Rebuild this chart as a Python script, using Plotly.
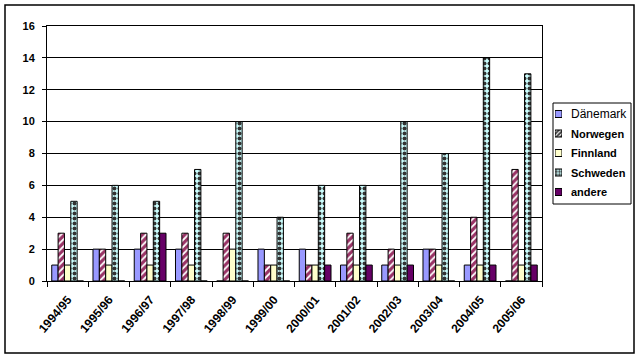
import plotly.graph_objects as go

seasons = ["1994/95", "1995/96", "1996/97", "1997/98", "1998/99", "1999/00",
           "2000/01", "2001/02", "2002/03", "2003/04", "2004/05", "2005/06"]
daenemark = [1, 2, 2, 2, 0, 2, 2, 1, 1, 2, 1, 0]
norwegen = [3, 2, 3, 3, 3, 1, 1, 3, 2, 2, 4, 7]
finnland = [1, 1, 1, 1, 2, 1, 1, 1, 1, 1, 1, 1]
schweden = [5, 6, 5, 7, 10, 4, 6, 6, 10, 8, 14, 13]
andere = [0, 0, 3, 0, 0, 0, 1, 1, 1, 0, 1, 1]
series_names = ["Dänemark", "Norwegen", "Finnland", "Schweden", "andere"]
y_ticks = [0, 2, 4, 6, 8, 10, 12, 14, 16]

# styles
fills = ["#9999FF", "white", "#FFFFCC", "#CCFFFF", "#660066"]
pat_shapes = ["", "/", "", ".", ""]
pat_fg = ["#9999FF", "#993366", "#FFFFCC", "#333333", "#660066"]
pat_size = [6, 5, 6, 5, 6]
pat_sol = [0.3, 0.65, 0.3, 0.5, 0.3]

W, H = 642, 360
L, R, T, B = 47, 8, 26, 79
pw, ph = W - L - R, H - T - B
PLOT_RIGHT = 542

def px(x):
    return (x - L) / pw

def py(y):
    return (H - B - y) / ph

line = dict(color="black", width=1)
fig = go.Figure()
for i, (nm, vals) in enumerate(zip(series_names,
                                   [daenemark, norwegen, finnland, schweden, andere])):
    marker = dict(color=fills[i], line=line)
    if pat_shapes[i]:
        marker["pattern"] = dict(shape=pat_shapes[i], fgcolor=pat_fg[i],
                                 bgcolor=fills[i], size=pat_size[i],
                                 solidity=pat_sol[i], fgopacity=1)
    fig.add_bar(x=seasons, y=vals, name=nm, marker=marker, showlegend=False)

# legend swatches drawn as a tiny bar chart on their own axes
fig.add_bar(x=[1] * len(series_names), y=series_names, orientation="h",
            xaxis="x2", yaxis="y2", width=0.36, showlegend=False, hoverinfo="skip",
            marker=dict(color=fills, line=line,
                        pattern=dict(shape=pat_shapes, fgcolor=pat_fg, bgcolor=fills,
                                     size=[3, 3, 3, 3, 3], solidity=pat_sol,
                                     fgopacity=1)))

row_y = [114, 133.5, 153, 172.5, 192]
annotations = []
for i, nm in enumerate(series_names):
    annotations.append(dict(
        x=px(569), y=py(row_y[i]), xref="paper", yref="paper",
        xanchor="left", yanchor="middle", showarrow=False,
        text=nm if i == 0 else f"<b>{nm}</b>",
        font=dict(size=12 if i == 0 else 11, color="black")))

fig.update_layout(
    width=W, height=H,
    margin=dict(l=L, r=R, t=T, b=B, pad=0),
    paper_bgcolor="white", plot_bgcolor="white",
    barmode="group", bargap=0.23, bargroupgap=0,
    font=dict(family="Liberation Sans, Arial, sans-serif", size=11, color="black"),
    showlegend=False,
    xaxis=dict(domain=[0, px(PLOT_RIGHT)], type="category", showline=True,
               linecolor="black", linewidth=1, mirror=True, ticks="outside",
               tickson="boundaries", ticklen=5, tickcolor="black", tickangle=-50,
               ticklabelstandoff=6,
               tickfont=dict(size=12, weight="bold"), showgrid=False),
    yaxis=dict(range=[0, 16], tickvals=y_ticks, showline=True, linecolor="black",
               linewidth=1, mirror=True, ticks="outside", ticklen=4,
               tickcolor="black", showgrid=True, gridcolor="black", gridwidth=1,
               ticklabelstandoff=5,
               tickfont=dict(size=11, weight="bold"), zeroline=False),
    xaxis2=dict(domain=[px(555), px(562)], range=[0, 1], visible=False,
                anchor="y2", fixedrange=True),
    yaxis2=dict(domain=[py(201.75), py(104.25)], type="category",
                categoryorder="array", categoryarray=series_names[::-1],
                visible=False, anchor="x2", fixedrange=True),
    annotations=annotations,
    shapes=[
        dict(type="rect", xref="paper", yref="paper",
             x0=px(553), x1=px(631), y0=py(204), y1=py(103),
             line=dict(color="black", width=1), fillcolor="rgba(0,0,0,0)"),
        dict(type="rect", xref="paper", yref="paper",
             x0=px(5), x1=px(634), y0=py(353), y1=py(5),
             line=dict(color="black", width=1.5), fillcolor="rgba(0,0,0,0)"),
    ],
)

fig.write_html("out.html", config={"displayModeBar": False},
               post_script="document.body.style.margin='0';document.body.style.padding='0';")
